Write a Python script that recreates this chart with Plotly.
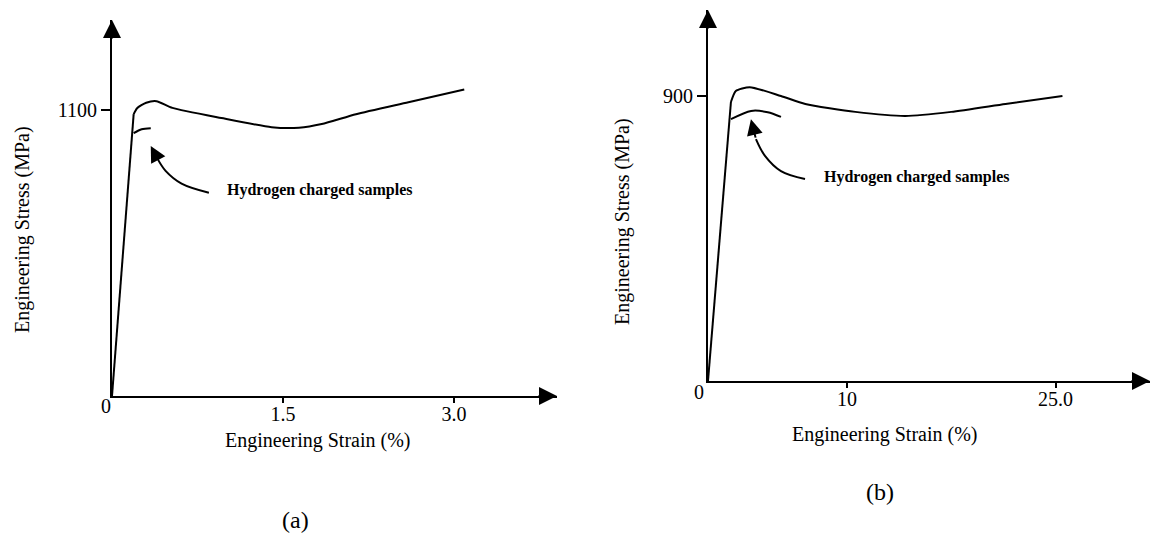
import plotly.graph_objects as go

W, H = 1152, 546

# ---- panel (a): engineering strain (%) vs engineering stress (MPa)
a_elastic_strain = [0.0, 0.19]
a_elastic_stress = [0, 1084]
a_strain = [0.19, 0.22, 0.30, 0.39, 0.53, 0.96, 1.40, 1.64, 1.84, 2.14, 2.60, 3.09]
a_stress = [1084, 1107, 1128, 1134, 1108, 1069, 1034, 1032, 1046, 1084, 1130, 1179]
a_h_strain = [0.19, 0.26, 0.34]
a_h_stress = [1011, 1026, 1030]
a_arrow_x = [0.85, 0.61, 0.47, 0.40]
a_arrow_y = [782, 817, 866, 912]
a_arrow_tip = (0.34, 962)
a_xticks = [1.5, 3.0]
a_xticklabels = ["1.5", "3.0"]
a_yticks = [1100]
a_yticklabels = ["1100"]

# ---- panel (b)
b_elastic_strain = [0.0, 1.65]
b_elastic_stress = [0, 880]
b_strain = [1.65, 2.0, 3.0, 5.25, 7.0, 10.6, 14.2, 17.5, 21.4, 25.5]
b_stress = [880, 915, 927, 899, 874, 849, 836, 849, 874, 899]
b_h_strain = [1.65, 3.1, 4.3, 5.25]
b_h_stress = [826, 852, 848, 833]
b_arrow_x = [6.98, 5.25, 4.10, 3.45]
b_arrow_y = [637, 662, 710, 763]
b_arrow_tip = (3.09, 826)
b_xticks = [10, 25]
b_xticklabels = ["10", "25.0"]
b_yticks = [900]
b_yticklabels = ["900"]

SERIF = "Liberation Serif"
LINE = dict(color="black", width=2)


def px_x(p):
    return p / W


def px_y(p):
    return (H - p) / H


fig = go.Figure()


def add_line(xs, ys, ax, shape="linear", smoothing=None):
    line = dict(LINE, shape=shape)
    if smoothing is not None:
        line["smoothing"] = smoothing
    fig.add_trace(go.Scatter(x=xs, y=ys, mode="lines", line=line, xaxis=ax,
                             yaxis=ax.replace("x", "y"), hoverinfo="skip", showlegend=False))


# elastic segments (straight), plastic flow curves and hydrogen-charged curves
add_line(a_elastic_strain, a_elastic_stress, "x")
add_line(a_strain, a_stress, "x", "spline", 0.6)
add_line(a_h_strain, a_h_stress, "x", "spline", 0.8)
add_line(b_elastic_strain, b_elastic_stress, "x2")
add_line(b_strain, b_stress, "x2", "spline", 0.6)
add_line(b_h_strain, b_h_stress, "x2", "spline", 0.8)
# pointer curves
add_line(a_arrow_x, a_arrow_y, "x", "spline", 1.0)
add_line(b_arrow_x, b_arrow_y, "x2", "spline", 1.0)

# panel geometry (pixels): origin, x end, y top, scale
panels = {
    "a": dict(ox=112, oy=396, xend=557, ytop=20, sx=114.0, sy=0.26),
    "b": dict(ox=708, oy=381, xend=1150, ytop=10, sx=13.9, sy=0.317),
}

axis_common = dict(showgrid=False, zeroline=False, showline=True, linecolor="black", linewidth=2,
                   ticks="outside", tickwidth=1.5, tickcolor="black",
                   tickfont=dict(family=SERIF, size=20, color="black"), fixedrange=True)

layout = dict(width=W, height=H, margin=dict(l=0, r=0, t=0, b=0),
              paper_bgcolor="white", plot_bgcolor="white", showlegend=False)

for key, xname, yname, xt, xtl, yt, ytl in [
    ("a", "xaxis", "yaxis", a_xticks, a_xticklabels, a_yticks, a_yticklabels),
    ("b", "xaxis2", "yaxis2", b_xticks, b_xticklabels, b_yticks, b_yticklabels),
]:
    p = panels[key]
    xr = (p["xend"] - p["ox"]) / p["sx"]
    yr = (p["oy"] - p["ytop"]) / p["sy"]
    anchor_y = "y" if key == "a" else "y2"
    anchor_x = "x" if key == "a" else "x2"
    layout[xname] = dict(axis_common, domain=[px_x(p["ox"]), px_x(p["xend"])], range=[0, xr],
                         anchor=anchor_y, tickvals=xt, ticktext=xtl, ticklen=5,
                         ticklabelstandoff=-6)
    layout[yname] = dict(axis_common, domain=[px_y(p["oy"]), px_y(p["ytop"])], range=[0, yr],
                         anchor=anchor_x, tickvals=yt, ticktext=ytl, ticklen=9)

fig.update_layout(**layout)


def text_at(cx, cy, txt, size, angle=0, xanchor="center"):
    return dict(x=px_x(cx), y=px_y(cy), xref="paper", yref="paper", text=txt, textangle=angle,
                xanchor=xanchor, yanchor="middle", showarrow=False,
                font=dict(family=SERIF, size=size, color="black"))


ann = []
for key, xr_, yr_, zx, zy in [("a", "x", "y", 106, 406), ("b", "x2", "y2", 699, 392)]:
    p = panels[key]
    xr = (p["xend"] - p["ox"]) / p["sx"]
    yr = (p["oy"] - p["ytop"]) / p["sy"]
    # arrowheads at the ends of both axes
    ann.append(dict(x=xr, y=0, xref=xr_, yref=yr_, ax=-20, ay=0, showarrow=True, text="",
                    arrowhead=2, arrowsize=1.8, arrowwidth=2, arrowcolor="black"))
    ann.append(dict(x=0, y=yr, xref=xr_, yref=yr_, ax=0, ay=20, showarrow=True, text="",
                    arrowhead=2, arrowsize=1.8, arrowwidth=2, arrowcolor="black"))
    # origin label
    ann.append(text_at(zx, zy, "0", 20))

# pointer arrowheads
for tip, tail, xr_, yr_ in [(a_arrow_tip, (a_arrow_x[-1], a_arrow_y[-1]), "x", "y"),
                            (b_arrow_tip, (b_arrow_x[-1], b_arrow_y[-1]), "x2", "y2")]:
    ann.append(dict(x=tip[0], y=tip[1], ax=tail[0], ay=tail[1], xref=xr_, yref=yr_,
                    axref=xr_, ayref=yr_, showarrow=True, text="", arrowhead=2,
                    arrowsize=1.6, arrowwidth=2, arrowcolor="black"))

# pointer captions
ann.append(text_at(225, 190, "<b>Hydrogen charged samples</b>", 16, xanchor="left"))
ann.append(text_at(822, 177, "<b>Hydrogen charged samples</b>", 16, xanchor="left"))

# axis titles
ann.append(text_at(318, 440, "Engineering Strain (%)", 20))
ann.append(text_at(23, 230, "Engineering Stress (MPa)", 20, angle=-90))
ann.append(text_at(885, 434, "Engineering Strain (%)", 20))
ann.append(text_at(622, 222, "Engineering Stress (MPa)", 20, angle=-90))

# panel letters
ann.append(text_at(295, 520, "(a)", 24))
ann.append(text_at(880, 492, "(b)", 24))

fig.update_layout(annotations=ann)
fig.write_html("out.html")
